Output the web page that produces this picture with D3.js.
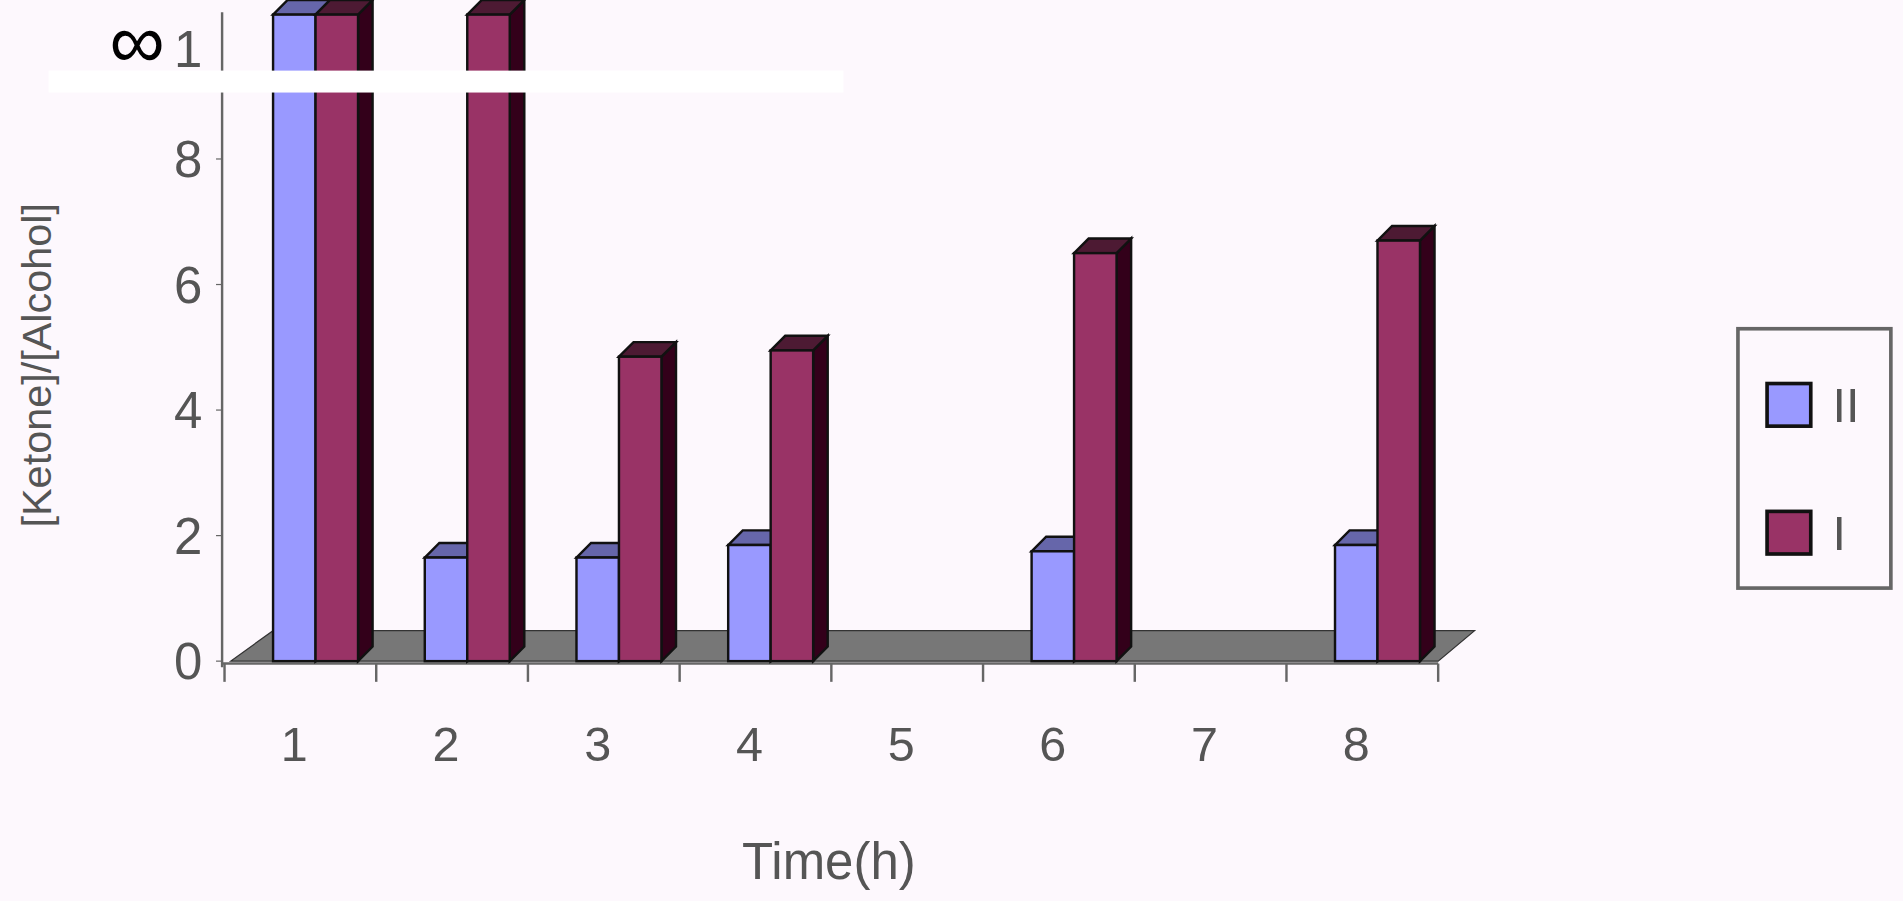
<!DOCTYPE html>
<html><head><meta charset="utf-8">
<script src="https://cdn.jsdelivr.net/npm/d3@7"></script>
<style>body{margin:0;background:#fdf8fd;overflow:hidden}text{font-family:"Liberation Sans",Arial,sans-serif}</style>
</head><body>
<div id="chart"></div>
<script>
// valores (10.3 = barra cortada no topo, "∞")
var categorias = ["1","2","3","4","5","6","7","8"];
var serieII = [10.3, 1.65, 1.65, 1.85, null, 1.75, null, 1.85];
var serieI = [10.3, 10.3, 4.85, 4.95, null, 6.5, null, 6.7];
var ticksY = [0, 2, 4, 6, 8];
var series = [
	{ nome: "II", valores: serieII, cor: "#9999ff", topo: "#6666aa", lado: "#333366" },
	{ nome: "I", valores: serieI, cor: "#993366", topo: "#4d1a33", lado: "#33001a" }
];

const svg = d3.select("#chart").append("svg")
	.attr("width", 1903).attr("height", 901)
	.attr("viewBox", "0 0 1568 740").attr("preserveAspectRatio", "none");

const x = d3.scaleBand().domain(categorias).range([185, 1185]);
const y = d3.scaleLinear().domain([0, 10.3]).range([543, 12]);
const dx = 12, dy = -12, bw = 35;

// piso
svg.append("path")
	.attr("d", `M190,543 L225,518 L1215,518 L1185,543 Z`)
	.attr("fill", "#777").attr("stroke", "#333");

// eixo y
svg.append("line").attr("x1", 183).attr("x2", 183).attr("y1", 10).attr("y2", 548).attr("stroke", "#666").attr("stroke-width", 2);
svg.selectAll(".ty").data(ticksY).enter().append("text")
	.attr("x", 155).attr("y", d => y(d) + 15).attr("text-anchor", "middle")
	.attr("font-size", 42).attr("fill", "#555").text(d => d);
svg.selectAll(".tky").data(ticksY).enter().append("line")
	.attr("x1", 178).attr("x2", 183).attr("y1", d => y(d)).attr("y2", d => y(d)).attr("stroke", "#666");
// rótulo "10" parcialmente coberto
svg.append("text").attr("x", 155).attr("y", 55).attr("text-anchor", "middle")
	.attr("font-size", 42).attr("fill", "#555").text("1");

// eixo x
svg.append("line").attr("x1", 183).attr("x2", 1185).attr("y1", 545).attr("y2", 545).attr("stroke", "#666").attr("stroke-width", 2);
svg.selectAll(".tkx").data(d3.range(categorias.length + 1)).enter().append("line")
	.attr("x1", i => 185 + i * x.bandwidth()).attr("x2", i => 185 + i * x.bandwidth())
	.attr("y1", 545).attr("y2", 560).attr("stroke", "#666").attr("stroke-width", 2);
svg.selectAll(".tx").data(categorias).enter().append("text")
	.attr("x", d => x(d) + x.bandwidth() / 2 - 5).attr("y", 625).attr("text-anchor", "middle")
	.attr("font-size", 40).attr("fill", "#555").text(d => d);

// barras 3D
series.forEach((s, si) => {
	s.valores.forEach((v, i) => {
		if (v === null) return;
		const x0 = x(categorias[i]) + 40 + si * bw, x1 = x0 + bw;
		const yt = y(v), yb = 543;
		const g = svg.append("g").attr("stroke", "#111").attr("stroke-width", 2);
		g.append("path").attr("d", `M${x1},${yb} L${x1 + dx},${yb + dy} L${x1 + dx},${yt + dy} L${x1},${yt} Z`).attr("fill", s.lado);
		g.append("path").attr("d", `M${x0},${yt} L${x0 + dx},${yt + dy} L${x1 + dx},${yt + dy} L${x1},${yt} Z`).attr("fill", s.topo);
		g.append("rect").attr("x", x0).attr("y", yt).attr("width", bw).attr("height", yb - yt).attr("fill", s.cor);
	});
});

// faixa branca e símbolo infinito
svg.append("rect").attr("x", 40).attr("y", 58).attr("width", 655).attr("height", 18).attr("fill", "#fff");
svg.append("text").attr("x", 113).attr("y", 56).attr("text-anchor", "middle")
	.attr("font-size", 64).attr("fill", "#000").text("∞");

// títulos
svg.append("text").attr("transform", "translate(42,300) rotate(-90)").attr("text-anchor", "middle")
	.attr("font-size", 34).attr("fill", "#555").text("[Ketone]/[Alcohol]");
svg.append("text").attr("x", 683).attr("y", 722).attr("text-anchor", "middle")
	.attr("font-size", 42).attr("fill", "#555").text("Time(h)");

// legenda
svg.append("rect").attr("x", 1432).attr("y", 270).attr("width", 126).attr("height", 213)
	.attr("fill", "#fdf8fd").attr("stroke", "#666").attr("stroke-width", 3);
series.forEach((s, i) => {
	const yy = 315 + i * 105;
	svg.append("rect").attr("x", 1456).attr("y", yy).attr("width", 36).attr("height", 35)
		.attr("fill", s.cor).attr("stroke", "#111").attr("stroke-width", 3);
	svg.append("text").attr("x", 1510).attr("y", yy + 32).attr("font-size", 40).attr("fill", "#555").text(s.nome);
});
</script>
</body></html>
